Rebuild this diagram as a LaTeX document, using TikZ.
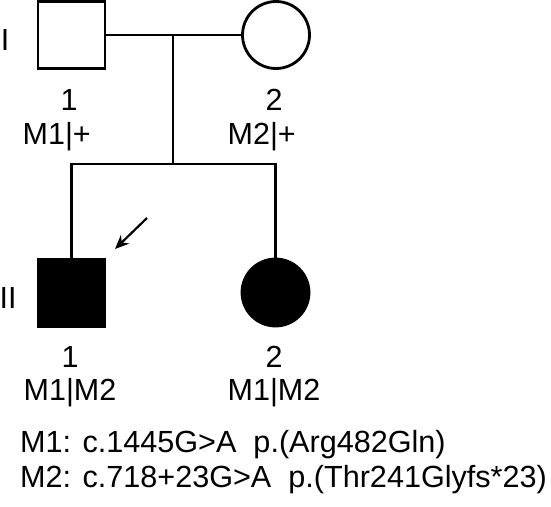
\documentclass[tikz,border=0pt]{standalone}
\usepackage{fontspec}
\setmainfont{Liberation Sans}
\usepackage{xcolor}
\usetikzlibrary{arrows.meta,shapes,positioning}
\definecolor{pedblack}{RGB}{0,0,0}
\tikzstyle{male} = [draw=pedblack, line width=2.8pt, rectangle, minimum size=67pt, inner sep=0pt]
\tikzstyle{female} = [draw=pedblack, line width=2.8pt, circle, minimum size=67pt, inner sep=0pt]
\tikzstyle{affected} = [fill=pedblack]
\tikzstyle{link} = [line width=2.8pt, color=pedblack]
\tikzstyle{proband} = [line width=2.2pt, -{Stealth[length=14pt,width=12pt]}, color=pedblack]
\tikzstyle{idtext} = [font=\fontsize{30.5}{36}\selectfont, inner sep=0pt]
\tikzstyle{vartext} = [font=\fontsize{30.6}{36}\selectfont, inner sep=0pt, anchor=base west]
\newcommand{\geno}[2]{\llap{#1}|\rlap{#2}}

\begin{document}
\begin{tikzpicture}[x=1pt, y=-1pt]
\useasboundingbox (0,0) rectangle (551,506);
% generation I
\node[male] (I1) at (71.5,35) {};
\node[female] (I2) at (276,35) {};
\node[idtext] (genI) at (5,40) {I};
\node[idtext] (I1num) at (69,100) {1};
\node[idtext] (I1geno) at (69,137) {\geno{M1}{+}};
\node[idtext] (I2num) at (274,100) {2};
\node[idtext] (I2geno) at (274,137) {\geno{M2}{+}};

% generation II
\node[male, affected] (II1) at (71.5,293) {};
\node[female, affected] (II2) at (275.5,292.5) {};
\node[idtext] (genII) at (8,298) {II};
\node[idtext] (II1num) at (70,357) {1};
\node[idtext] (II1geno) at (70,393) {\geno{M1}{M2}};
\node[idtext] (II2num) at (274,357) {2};
\node[idtext] (II2geno) at (274,393) {\geno{M1}{M2}};

% mating and sibship lines
\coordinate (mate) at (173,35);
\coordinate (sib) at (173,164);
\draw[link] (I1.east) -- (I2.west);
\draw[link] (mate) -- (sib);
\draw[link] (II1.north) |- (sib) -| (II2.north);

% proband arrow
\coordinate (ptail) at (147,218);
\coordinate (phead) at (115,249);
\draw[proband] (ptail) -- (phead);

% variants
\node[vartext] (var1) at (20,452) {M1: c.1445G>A\ \ p.(Arg482Gln)};
\node[vartext] (var2) at (20,487) {M2: c.718+23G>A\ \ p.(Thr241Glyfs*23)};
\end{tikzpicture}
\end{document}
